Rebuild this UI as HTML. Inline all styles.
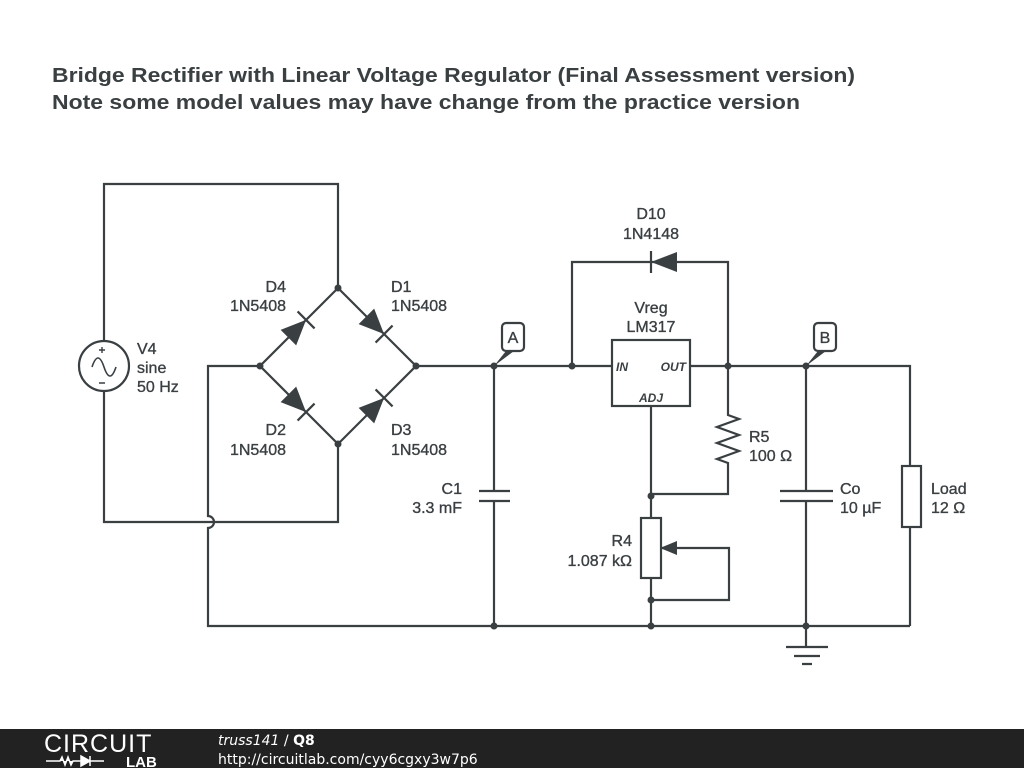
<!DOCTYPE html>
<html><head><style>body{margin:0;background:#fff}svg{display:block}</style></head><body>
<svg width="1024" height="768" xmlns="http://www.w3.org/2000/svg" style="font-family:'Liberation Sans',Arial,sans-serif">
<rect width="1024" height="768" fill="#fff"/>
<text x="52" y="82" font-size="20" font-weight="bold" fill="#3a3f42" textLength="803" lengthAdjust="spacingAndGlyphs">Bridge Rectifier with Linear Voltage Regulator (Final Assessment version)</text>
<text x="52" y="109" font-size="20" font-weight="bold" fill="#3a3f42" textLength="748" lengthAdjust="spacingAndGlyphs">Note some model values may have change from the practice version</text>
<g stroke="#3a3f42" stroke-width="2.2" fill="none">
<path d="M338 288V184H104V341M104 391V522H338V444"/>
<path d="M260 366H208V516A6 6 0 0 1 208 528V626H910"/>
<path d="M338 288L416 366L338 444L260 366Z"/>
<path d="M416 366H612M690 366H910V466M910 527V626"/>
<path d="M572 366V262H728V366M728 366V415l11 4l-22 8l22 8l-22 8l22 8l-22 8l11 4V494H651"/>
<path d="M651 406V518M651 578V626M661 548H729V600H651"/>
<path d="M494 366V491M494 501V626M479 491H510M479 501H510"/>
<path d="M806 366V491M806 501V647M780 491H833M780 501H833M786 647H828M794 656H820M802 664H812"/>
<rect x="612" y="340" width="78" height="66"/>
<rect x="641" y="518" width="20" height="60"/>
<rect x="902" y="466" width="19" height="61"/>
<circle cx="104" cy="366" r="25"/>
<path d="M92 367c4-12 8-12 12 0s8 12 12 0" stroke-width="1.6"/>
<path d="M99 350h6M102 347v6M99 383h6" stroke-width="1.4"/>
<path d="M651 251V273"/>
<rect x="502" y="323" width="22" height="28" rx="4" fill="#fff"/>
<rect x="814" y="323" width="22" height="28" rx="4" fill="#fff"/>
</g>
<g fill="#3a3f42">
<path d="M494 366L506 351H514Z"/><path d="M806 366L818 351H826Z"/>
<path d="M651 262L677 252V272Z"/>
<path d="M660 548L677 541V555Z"/>
<circle cx="338" cy="288" r="3.5"/><circle cx="260" cy="366" r="3.5"/><circle cx="416" cy="366" r="3.5"/><circle cx="338" cy="444" r="3.5"/>
<circle cx="494" cy="366" r="3.5"/><circle cx="572" cy="366" r="3.5"/><circle cx="728" cy="366" r="3.5"/><circle cx="806" cy="366" r="3.5"/>
<circle cx="651" cy="496" r="3.5"/><circle cx="651" cy="600" r="3.5"/><circle cx="651" cy="626" r="3.5"/><circle cx="494" cy="626" r="3.5"/><circle cx="806" cy="626" r="3.5"/>
</g>
<g transform="translate(299,327) rotate(-45)"><path d="M-15 -11V11L10 0Z" fill="#3a3f42"/><path d="M10 -12V12" stroke="#3a3f42" stroke-width="2.2"/></g>
<g transform="translate(377,327) rotate(45)"><path d="M-15 -11V11L10 0Z" fill="#3a3f42"/><path d="M10 -12V12" stroke="#3a3f42" stroke-width="2.2"/></g>
<g transform="translate(299,405) rotate(45)"><path d="M-15 -11V11L10 0Z" fill="#3a3f42"/><path d="M10 -12V12" stroke="#3a3f42" stroke-width="2.2"/></g>
<g transform="translate(377,405) rotate(-45)"><path d="M-15 -11V11L10 0Z" fill="#3a3f42"/><path d="M10 -12V12" stroke="#3a3f42" stroke-width="2.2"/></g>
<g font-size="16" fill="#3a3f42" stroke="#3a3f42" stroke-width="0.35">
<text x="286" y="292" text-anchor="end">D4</text><text x="286" y="311" text-anchor="end">1N5408</text>
<text x="391" y="292">D1</text><text x="391" y="311">1N5408</text>
<text x="286" y="435" text-anchor="end">D2</text><text x="286" y="455" text-anchor="end">1N5408</text>
<text x="391" y="435">D3</text><text x="391" y="455">1N5408</text>
<text x="137" y="354">V4</text><text x="137" y="373">sine</text><text x="137" y="392">50 Hz</text>
<text x="462" y="494" text-anchor="end">C1</text><text x="462" y="513" text-anchor="end">3.3 mF</text>
<text x="651" y="219" text-anchor="middle">D10</text><text x="651" y="239" text-anchor="middle">1N4148</text>
<text x="651" y="313" text-anchor="middle">Vreg</text><text x="651" y="332" text-anchor="middle">LM317</text>
<text x="749" y="442">R5</text><text x="749" y="461">100 Ω</text>
<text x="632" y="546" text-anchor="end">R4</text><text x="632" y="566" text-anchor="end">1.087 kΩ</text>
<text x="840" y="494">Co</text><text x="840" y="513">10 µF</text>
<text x="931" y="494">Load</text><text x="931" y="513">12 Ω</text>
<text x="513" y="343" text-anchor="middle">A</text><text x="825" y="343" text-anchor="middle">B</text>
</g>
<g font-size="12" font-style="italic" font-weight="bold" fill="#3a3f42">
<text x="616" y="371">IN</text><text x="686" y="371" text-anchor="end">OUT</text><text x="651" y="402" text-anchor="middle">ADJ</text>
</g>
<rect x="0" y="729" width="1024" height="39" fill="#222"/>
<text x="44" y="752" font-size="25" fill="#fff" letter-spacing="1">CIRCUIT</text>
<path d="M46 761H60l2-4 3 8 3-8 3 8 2-4h8M81 756V766L90 761ZM90 756V766M90 761H104" stroke="#fff" stroke-width="1.5" fill="#fff"/>
<text x="126" y="767" font-size="15" font-weight="bold" fill="#fff">LAB</text>
<text x="218" y="745" font-size="14" fill="#fff" style="font-family:'DejaVu Sans',sans-serif"><tspan font-style="italic">truss141</tspan> / <tspan font-weight="bold">Q8</tspan></text>
<text x="218" y="764" font-size="14" fill="#fff" style="font-family:'DejaVu Sans',sans-serif">http://circuitlab.com/cyy6cgxy3w7p6</text>
</svg>
</body></html>
